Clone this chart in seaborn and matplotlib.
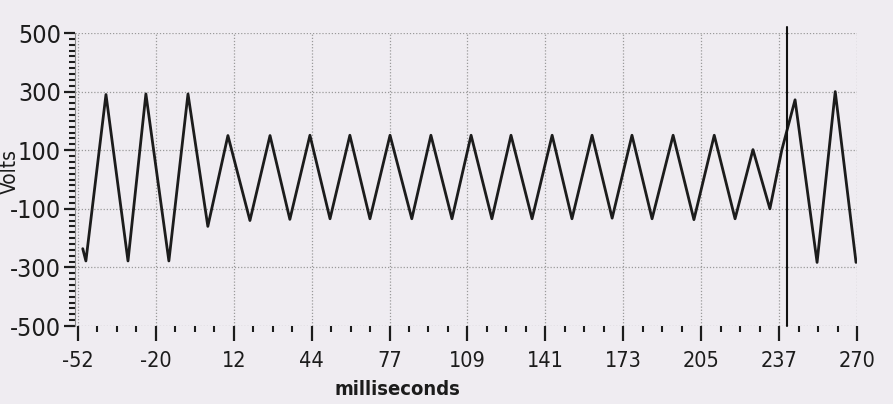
import matplotlib
matplotlib.use("Agg")
import matplotlib.pyplot as plt
import numpy as np
import pandas as pd
import seaborn as sns
from matplotlib.ticker import FixedLocator, MultipleLocator

# waveform turning points (ms, volts)
time_ms = [-50.0, -48.7, -40.4, -31.3, -23.9, -14.4, -6.5, 1.7, 10.0, 19.1,
           27.4, 35.6, 43.9, 52.2, 60.4, 68.7, 77.0, 86.0, 93.9, 102.6,
           110.5, 119.1, 127.0, 135.7, 144.0, 152.2, 160.5, 168.8, 177.0, 185.3,
           194.0, 202.6, 211.0, 219.6, 227.0, 234.0, 238.9, 244.4, 253.5, 261.0,
           269.6]
volts = [-236, -278, 290, -278, 292, -278, 292, -160, 150, -140,
         150, -136, 151, -134, 151, -134, 151, -134, 151, -134,
         151, -134, 151, -134, 151, -134, 151, -132, 151, -134,
         151, -137, 151, -134, 102, -100, 100, 272, -283, 300,
         -283]

marker_ms = 240.9

x_ticks = [-52.0, -19.8, 12.4, 44.6, 76.8, 109.0, 141.2, 173.4, 205.6, 237.8, 270.0]
x_tick_labels = ["-52", "-20", "12", "44", "77", "109", "141", "173", "205", "237", "270"]
y_ticks = [-500, -300, -100, 100, 300, 500]
y_tick_labels = ["-500", "-300", "-100", "100", "300", "500"]

BG = "#efecf1"
INK = "#1c1c1c"

sns.set_theme(style="ticks")
plt.rcParams["font.family"] = ["DejaVu Sans"]
plt.rcParams["font.stretch"] = "condensed"
plt.rcParams["axes.unicode_minus"] = False

df = pd.DataFrame({"ms": time_ms, "volts": volts})

fig = plt.figure(figsize=(8.93, 4.04), dpi=100, facecolor=BG)
ax = fig.add_axes([75 / 893, 1 - 326 / 404, 782 / 893, 293 / 404])
ax.set_facecolor(BG)

sns.lineplot(data=df, x="ms", y="volts", ax=ax, color=INK, linewidth=2.0,
             estimator=None, sort=False)
ax.axvline(marker_ms, ymin=0.0, ymax=1.02, color="#111111", linewidth=1.5, clip_on=False)

ax.set_xlim(-53.2, 270.0)
ax.set_ylim(-500, 500)

ax.xaxis.set_major_locator(FixedLocator(x_ticks))
ax.set_xticklabels(x_tick_labels)
ax.xaxis.set_minor_locator(FixedLocator(
    [t + k * (x_ticks[1] - x_ticks[0]) / 4 for t in x_ticks[:-1] for k in (1, 2, 3)]))
ax.yaxis.set_major_locator(FixedLocator(y_ticks))
ax.set_yticklabels(y_tick_labels)
ax.yaxis.set_minor_locator(MultipleLocator(20))

ax.grid(True, which="major", color="#9a9a9a", linestyle=(0, (1, 1.5)), linewidth=0.9)
for side in ["top", "right", "bottom"]:
    ax.spines[side].set_visible(False)
ax.spines["left"].set_color("#8a8a8a")
ax.spines["left"].set_linewidth(0.8)

ax.tick_params(axis="x", which="major", direction="out", length=11, width=1.6,
               color=INK, pad=7, labelsize=15.5, labelcolor=INK)
ax.tick_params(axis="x", which="minor", direction="out", length=4, width=1.5, color=INK)
ax.tick_params(axis="y", which="major", direction="out", length=8, width=1.6,
               color=INK, pad=2, labelsize=18, labelcolor=INK)
ax.tick_params(axis="y", which="minor", direction="out", length=4, width=1.5, color=INK)

ax.set_xlabel("milliseconds", fontsize=14.5, fontweight="bold", color=INK)
ax.xaxis.set_label_coords(0.412, -0.185)
ax.set_ylabel("")
fig.text(10 / 893, 1 - 172 / 404, "Volts", rotation=90, ha="center", va="center",
         fontsize=15, color=INK)

fig.savefig("out.png", dpi=100, facecolor=BG)
